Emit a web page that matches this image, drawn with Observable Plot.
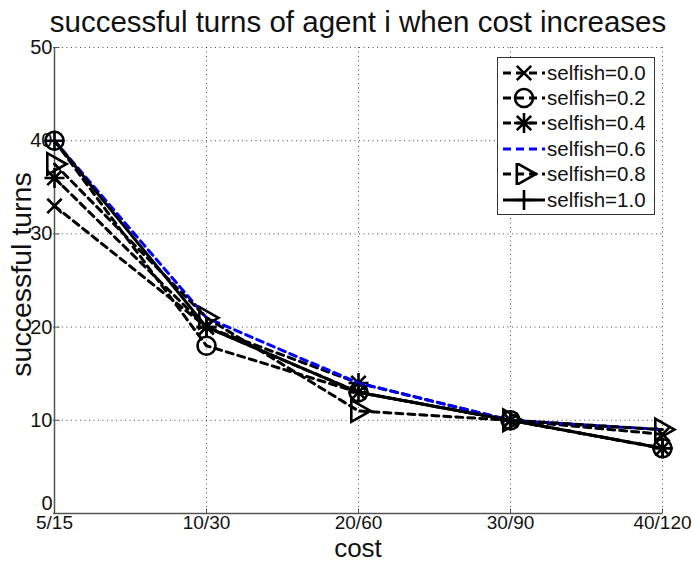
<!DOCTYPE html>
<html>
<head>
<meta charset="utf-8">
<script src="https://cdn.jsdelivr.net/npm/d3@7"></script>
<script src="https://cdn.jsdelivr.net/npm/@observablehq/plot@0.6"></script>
<style>
  body { margin: 0; background: #fff; font-family: "Liberation Sans", Arial, sans-serif; }
  #chart { position: relative; width: 692px; height: 562px; }
  #legend {
    position: absolute; left: 497px; top: 57px; width: 158px; height: 158px;
    box-sizing: border-box; border: 1.5px solid #333; background: #fff; padding-top: 2px;
  }
  .row { display: flex; align-items: center; height: 25.4px; }
  .row svg { margin-left: 4px; flex: none; }
  .row span { font-size: 20.5px; color: #111; margin-left: 1px; white-space: nowrap; }
</style>
</head>
<body>
<div id="chart"><div id="legend"></div></div>
<script>
// cost levels on the x axis
const costs = ["5/15", "10/30", "20/60", "30/90", "40/120"];
// selfishness levels, one line each
const selfishLevels = ["0.0", "0.2", "0.4", "0.6", "0.8", "1.0"];
// successful turns per cost level for each selfishness level
const turnsS00 = [33, 20, 13, 10, 8.5];
const turnsS02 = [40, 18, 13, 10, 7];
const turnsS04 = [36, 20, 14, 10, 7];
const turnsS06 = [40, 21, 14, 10, 9];
const turnsS08 = [37.5, 21, 11, 10, 9];
const turnsS10 = [40, 20, 13, 10, 7];
const yTicks = [0, 10, 20, 30, 40, 50];

// MATLAB-style marker glyphs as d3 symbol types (size = area, r = sqrt(size/pi))
const rad = (size) => Math.sqrt(size / Math.PI);
const symbols = {
  times: { draw(c, s) { const r = rad(s) * 0.72; c.moveTo(-r, -r); c.lineTo(r, r); c.moveTo(-r, r); c.lineTo(r, -r); } },
  circle: { draw(c, s) { const r = rad(s); c.moveTo(r, 0); c.arc(0, 0, r, 0, 2 * Math.PI); } },
  star: { draw(c, s) {
    const r = rad(s), d = r * 0.72;
    c.moveTo(-r, 0); c.lineTo(r, 0); c.moveTo(0, -r); c.lineTo(0, r);
    c.moveTo(-d, -d); c.lineTo(d, d); c.moveTo(-d, d); c.lineTo(d, -d);
  } },
  triRight: { draw(c, s) {
    const r = rad(s);
    c.moveTo(r, 0); c.lineTo(-r * 0.6, -r * 0.9); c.lineTo(-r * 0.6, r * 0.9); c.closePath();
  } },
  plus: { draw(c, s) { const r = rad(s); c.moveTo(-r, 0); c.lineTo(r, 0); c.moveTo(0, -r); c.lineTo(0, r); } },
  // short inward tick marks along the axes
  tickRight: { draw(c) { c.moveTo(0, 0); c.lineTo(5, 0); } },
  tickUp: { draw(c) { c.moveTo(0, 0); c.lineTo(0, -5); } }
};

const seriesDefs = [
  { name: "0.0", values: turnsS00, color: "#000", dash: "7,5", symbol: symbols.times, r: 10 },
  { name: "0.2", values: turnsS02, color: "#000", dash: "7,5", symbol: symbols.circle, r: 9 },
  { name: "0.4", values: turnsS04, color: "#000", dash: "7,5", symbol: symbols.star, r: 10 },
  { name: "0.6", values: turnsS06, color: "#0000ff", dash: "7,5", symbol: null, r: 0 },
  { name: "0.8", values: turnsS08, color: "#000", dash: "7,5", symbol: symbols.triRight, r: 12 },
  { name: "1.0", values: turnsS10, color: "#000", dash: null, symbol: symbols.plus, r: 10 }
];

const rows = seriesDefs.map((s) => s.values.map((v, i) => ({ cost: costs[i], turns: v, selfish: s.name })));

const marks = [
  Plot.gridX(costs, { stroke: "#000", strokeOpacity: 0.7, strokeDasharray: "1,3.5", strokeWidth: 1 }),
  Plot.gridY(yTicks, { stroke: "#000", strokeOpacity: 0.7, strokeDasharray: "1,3.5", strokeWidth: 1 }),
  Plot.ruleX([costs[0]], { stroke: "#555", strokeWidth: 1.5 }),
  Plot.ruleY([0], { stroke: "#555", strokeWidth: 1.5 }),
  Plot.dot(yTicks, { x: () => costs[0], y: (d) => d, symbol: symbols.tickRight, r: 3, stroke: "#555", strokeWidth: 1 }),
  Plot.dot(costs, { x: (d) => d, y: () => 0, symbol: symbols.tickUp, r: 3, stroke: "#555", strokeWidth: 1 }),
  // tick labels
  Plot.text(yTicks.slice(1), {
    x: () => costs[0], y: (d) => d, text: (d) => String(d),
    textAnchor: "end", lineAnchor: "middle", dx: -2, fontSize: 20, fill: "#111"
  }),
  Plot.text(yTicks.slice(0, 1), {
    x: () => costs[0], y: (d) => d, text: (d) => String(d),
    textAnchor: "end", lineAnchor: "middle", dx: -2, dy: -10, fontSize: 20, fill: "#111"
  }),
  Plot.text(costs, {
    x: (d) => d, y: () => 0, text: (d) => d,
    textAnchor: "middle", lineAnchor: "top", dy: 2, fontSize: 19, fill: "#111"
  }),
  // title and axis names
  Plot.text(["successful turns of agent i when cost increases"], {
    text: (d) => d, frameAnchor: "top", lineAnchor: "middle", dy: -25, fontSize: 29.5, fill: "#111"
  }),
  Plot.text(["cost"], {
    text: (d) => d, frameAnchor: "bottom", lineAnchor: "middle", dy: 35, fontSize: 26, fill: "#111"
  }),
  Plot.text(["successful turns"], {
    text: (d) => d, frameAnchor: "left", textAnchor: "middle", lineAnchor: "middle",
    dx: -32, dy: -6, rotate: -90, fontSize: 28.5, fill: "#111"
  })
];

seriesDefs.forEach((s, k) => {
  marks.push(Plot.line(rows[k], {
    x: "cost", y: "turns", stroke: s.color, strokeWidth: 3,
    strokeDasharray: s.dash ?? undefined
  }));
  if (s.symbol) {
    marks.push(Plot.dot(rows[k], {
      x: "cost", y: "turns", symbol: s.symbol, r: s.r,
      stroke: "#000", strokeWidth: 2.6, fill: "none"
    }));
  }
});

const chart = Plot.plot({
  width: 692,
  height: 562,
  marginLeft: 53,
  marginRight: 30,
  marginTop: 47,
  marginBottom: 49,
  style: { fontFamily: "Liberation Sans, Arial, sans-serif", fontSize: "20px", background: "#fff", color: "#111" },
  x: { type: "point", domain: costs, padding: 0, axis: null },
  y: { domain: [0, 50], axis: null },
  marks
});
document.getElementById("chart").prepend(chart);

// legend: line sample with marker, then the series name
const legend = d3.select("#legend");
seriesDefs.forEach((s) => {
  const row = legend.append("div").attr("class", "row");
  const sw = row.append("svg").attr("width", 44).attr("height", 22);
  sw.append("line").attr("x1", 1).attr("x2", 43).attr("y1", 11).attr("y2", 11)
    .attr("stroke", s.color).attr("stroke-width", 3)
    .attr("stroke-dasharray", s.dash ? "8,5" : null);
  if (s.symbol) {
    const p = d3.path();
    s.symbol.draw(p, s.r * s.r * Math.PI);
    sw.append("path").attr("d", p.toString()).attr("transform", "translate(22,11)")
      .attr("fill", "none").attr("stroke", "#000").attr("stroke-width", 2.6);
  }
  row.append("span").text("selfish=" + s.name);
});
</script>
</body>
</html>
